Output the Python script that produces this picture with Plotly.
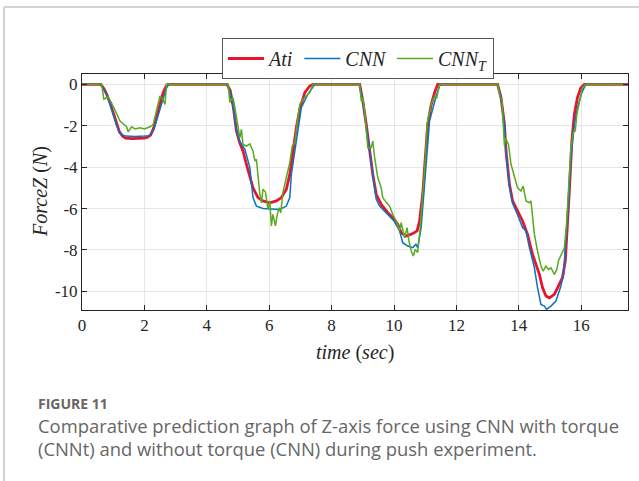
import plotly.graph_objects as go

# ---------------- data ----------------
t_ati = [0, 0.6, 0.7, 0.8, 0.9, 1.0, 1.1, 1.2, 1.3, 1.4, 1.6, 1.8, 2.0, 2.1, 2.2, 2.3, 2.4, 2.5, 2.6, 2.7, 2.75,
         4.65, 4.75, 4.85, 4.95, 5.05, 5.16, 5.27, 5.38, 5.48, 5.64, 5.8, 6.02, 6.23, 6.39, 6.55, 6.66, 6.76, 6.87, 6.98, 7.14, 7.3, 7.4,
         8.9, 9.0, 9.11, 9.22, 9.32, 9.43, 9.59, 9.8, 9.96, 10.12, 10.23, 10.39, 10.6, 10.74, 10.82, 10.92, 11.0, 11.08, 11.19, 11.3, 11.4,
         13.32, 13.43, 13.54, 13.59, 13.7, 13.8, 13.96, 14.12, 14.28, 14.44, 14.66, 14.76, 14.87, 14.98, 15.14, 15.3, 15.4, 15.49, 15.56,
         15.62, 15.7, 15.78, 15.88, 15.99, 16.1, 17.5]
f_ati = [0, 0, -0.2, -0.5, -0.9, -1.4, -1.9, -2.3, -2.5, -2.6, -2.62, -2.6, -2.6, -2.55, -2.45, -2.1, -1.5, -0.9, -0.4, -0.08, 0,
         0, -0.3, -1.1, -2.25, -2.8, -3.22, -3.86, -4.5, -5.0, -5.47, -5.63, -5.72, -5.63, -5.47, -5.07, -4.35, -3.3, -2.1, -1.2, -0.4, -0.08, 0,
         0, -0.8, -1.93, -3.22, -4.35, -5.31, -5.8, -6.2, -6.44, -6.76, -7.16, -7.33, -7.21, -7.08, -6.6, -5.3, -3.54, -1.93, -1.0, -0.4, 0,
         0, -0.64, -1.93, -3.22, -4.83, -5.63, -6.12, -6.6, -7.25, -8.21, -9.18, -9.82, -10.22, -10.31, -10.14, -9.66, -9.34, -8.53, -6.92,
         -5.15, -2.74, -1.45, -0.64, -0.16, 0, 0]

t_cnn = [0, 0.62, 0.7, 0.8, 0.9, 1.0, 1.1, 1.2, 1.3, 1.4, 1.7, 2.0, 2.15, 2.3, 2.4, 2.5, 2.6, 2.7, 2.78,
         4.65, 4.75, 4.85, 4.95, 5.05, 5.22, 5.38, 5.48, 5.59, 5.8, 6.1, 6.34, 6.55, 6.66, 6.71, 6.82, 6.92, 7.03, 7.24, 7.46,
         8.9, 9.0, 9.11, 9.22, 9.32, 9.43, 9.54, 9.8, 10.0, 10.18, 10.28, 10.44, 10.6, 10.7, 10.76, 10.87, 10.98, 11.06, 11.14, 11.24,
         11.35, 11.46, 11.5,
         13.32, 13.43, 13.54, 13.59, 13.7, 13.8, 13.96, 14.12, 14.23, 14.34, 14.5, 14.6, 14.71, 14.82, 14.89, 15.03, 15.19, 15.35, 15.43,
         15.51, 15.6, 15.67, 15.78, 15.88, 16.02, 16.15, 17.5]
f_cnn = [0, 0, -0.25, -0.55, -0.95, -1.45, -1.95, -2.3, -2.45, -2.5, -2.52, -2.5, -2.48, -2.2, -1.7, -1.1, -0.6, -0.2, 0,
         0, -0.35, -1.1, -2.2, -2.75, -3.14, -4.02, -5.47, -5.88, -6.0, -6.02, -6.04, -5.88, -5.47, -4.35, -3.22, -2.1, -1.13, -0.48, 0,
         0, -0.85, -2.0, -3.3, -4.4, -5.55, -5.88, -6.28, -6.6, -7.08, -7.65, -7.81, -7.89, -7.73, -7.89, -6.92, -5.0, -3.3, -1.77, -1.2,
         -0.56, -0.08, 0,
         0, -0.64, -1.93, -3.3, -4.9, -5.75, -6.3, -6.92, -7.08, -7.89, -8.86, -9.82, -10.63, -10.71, -10.87, -10.71, -10.47, -9.74, -9.18,
         -7.57, -5.63, -3.54, -1.93, -1.13, -0.4, 0, 0]

t_cnnt = [0, 0.63, 0.7, 0.83, 0.95, 1.06, 1.15, 1.22, 1.32, 1.43, 1.48, 1.59, 1.7, 1.86, 2.0, 2.18, 2.28, 2.39, 2.5, 2.6, 2.66, 2.71,
          4.68, 4.74, 4.84, 4.9, 5.0, 5.06, 5.11, 5.16, 5.27, 5.38, 5.48, 5.54, 5.59, 5.64, 5.7, 5.75, 5.8, 5.88, 5.96, 6.02, 6.07, 6.12,
          6.2, 6.26, 6.32, 6.37, 6.44, 6.55, 6.66, 6.74, 6.82, 6.89, 6.98, 7.08, 7.19, 7.3, 7.4,
          8.9, 8.95, 9.0, 9.06, 9.11, 9.16, 9.27, 9.32, 9.38, 9.48, 9.59, 9.64, 9.75, 9.86, 9.96, 10.07, 10.18, 10.23, 10.34, 10.42,
          10.48, 10.55, 10.62, 10.68, 10.76, 10.84, 10.92, 11.0, 11.06, 11.19, 11.3, 11.37, 11.46,
          13.32, 13.4, 13.46, 13.5, 13.54, 13.57, 13.67, 13.75, 13.86, 13.96, 14.07, 14.14, 14.23, 14.34, 14.39, 14.44, 14.5, 14.6,
          14.71, 14.78, 14.87, 14.95, 15.03, 15.14, 15.22, 15.27, 15.35, 15.46, 15.53, 15.6, 15.67, 15.74, 15.81, 15.86, 15.94, 16.04,
          16.15, 17.5]
f_cnnt = [0, 0, -0.72, -0.6, -0.9, -1.3, -1.55, -1.77, -1.9, -2.05, -2.3, -2.05, -2.15, -2.1, -2.15, -2.05, -1.95, -1.21, -0.56, -0.75, -0.97, 0,
          0, -0.87, -0.64, -1.13, -1.93, -2.58, -2.17, -2.9, -2.98, -2.87, -3.22, -3.7, -3.62, -4.5, -5.31, -5.72, -5.07, -5.2, -6.04, -5.63,
          -6.84, -6.28, -6.84, -6.28, -5.96, -6.2, -5.23, -4.5, -3.78, -2.98, -2.82, -1.93, -0.97, -0.72, -0.56, -0.4, 0,
          0, -0.8, -0.64, -1.29, -2.09, -3.06, -3.06, -2.74, -3.54, -4.5, -5.0, -5.47, -5.7, -5.88, -6.28, -6.6, -7.08, -6.68, -7.41, -6.92,
          -7.57, -8.05, -8.29, -7.97, -8.13, -6.92, -5.31, -3.7, -1.93, -0.97, -0.56, -0.64, 0,
          0, -0.64, -0.72, -1.93, -2.98, -2.58, -2.9, -3.86, -4.5, -5.0, -5.15, -4.91, -5.63, -5.72, -5.63, -6.28, -7.25, -8.05,
          -8.78, -9.02, -8.78, -8.94, -8.86, -9.18, -8.94, -8.53, -8.29, -7.89, -6.76, -5.15, -3.06, -2.33, -2.25, -1.45, -0.8, -0.16,
          0, 0]

x_ticks = [0, 2, 4, 6, 8, 10, 12, 14, 16]
y_ticks = [0, -2, -4, -6, -8, -10]
y_tick_labels = ["0", "-2", "-4", "-6", "-8", "-10"]

series_names = ["<i>Ati</i>", "<i>CNN</i>", "<i>CNN<sub>T</sub></i>"]
colors = ["#e8132e", "#0a72c2", "#58aa1e"]

# ---------------- figure ----------------
fig = go.Figure()
fig.add_trace(go.Scatter(x=t_ati, y=f_ati, mode="lines", name=series_names[0],
                         line=dict(color=colors[0], width=2.8)))
fig.add_trace(go.Scatter(x=t_cnn, y=f_cnn, mode="lines", name=series_names[1],
                         line=dict(color=colors[1], width=1.5)))
fig.add_trace(go.Scatter(x=t_cnnt, y=f_cnnt, mode="lines", name=series_names[2],
                         line=dict(color=colors[2], width=1.5)))

L, R, T, B = 82, 628, 74, 310
W, H = 639, 481
pw, ph = R - L, B - T


def px(x):
    return (x - L) / pw


def py(y):
    return (B - y) / ph


serif = "Liberation Serif"
axis_common = dict(showline=True, linecolor="#262626", linewidth=1, mirror="ticks",
                   ticks="inside", ticklen=5, tickcolor="#262626",
                   showgrid=True, gridcolor="#e6e6e6", gridwidth=1, zeroline=False,
                   tickfont=dict(family=serif, size=17, color="#262626"))

fig.update_layout(
    width=W, height=H,
    margin=dict(l=L, r=W - R, t=T, b=H - B),
    paper_bgcolor="white", plot_bgcolor="white",
    showlegend=True,
    legend=dict(orientation="h", x=px(222), y=py(38), xanchor="left", yanchor="top",
                bordercolor="#555555", borderwidth=1, bgcolor="white",
                font=dict(family=serif, size=20, color="#262626"),
                itemwidth=36, tracegroupgap=0),
    xaxis=dict(range=[0, 17.5], tickvals=x_ticks, **axis_common),
    yaxis=dict(range=[-10.9, 0.5], tickvals=y_ticks, ticktext=y_tick_labels, **axis_common),
)

ann = []
ann.append(dict(text="<i>time</i> (<i>sec</i>)", x=0.5, y=py(352), xref="paper", yref="paper",
                showarrow=False, xanchor="center", yanchor="middle",
                font=dict(family=serif, size=20, color="#262626")))
ann.append(dict(text="<i>ForceZ</i> (<i>N</i>)", x=px(40), y=py(192), xref="paper", yref="paper",
                showarrow=False, xanchor="center", yanchor="middle", textangle=-90,
                font=dict(family=serif, size=20, color="#262626")))
ann.append(dict(text="<b>FIGURE 11</b>", x=px(36), y=py(403), xref="paper", yref="paper",
                showarrow=False, xanchor="left", yanchor="middle",
                font=dict(family="Open Sans", size=14, color="#666666")))
ann.append(dict(text="Comparative prediction graph of Z-axis force using CNN with torque",
                x=px(36), y=py(425), xref="paper", yref="paper",
                showarrow=False, xanchor="left", yanchor="middle",
                font=dict(family="Open Sans", size=18.4, color="#666666")))
ann.append(dict(text="(CNNt) and without torque (CNN) during push experiment.",
                x=px(36), y=py(448), xref="paper", yref="paper",
                showarrow=False, xanchor="left", yanchor="middle",
                font=dict(family="Open Sans", size=18.4, color="#666666")))
fig.update_layout(annotations=ann)

# card border (top and left)
fig.add_shape(type="line", xref="paper", yref="paper", x0=px(4), x1=px(W + 5), y0=py(7), y1=py(7),
              line=dict(color="#d2d2d2", width=2))
fig.add_shape(type="line", xref="paper", yref="paper", x0=px(4), x1=px(4), y0=py(7), y1=py(H + 5),
              line=dict(color="#d2d2d2", width=2))

fig.write_html("out.html")
